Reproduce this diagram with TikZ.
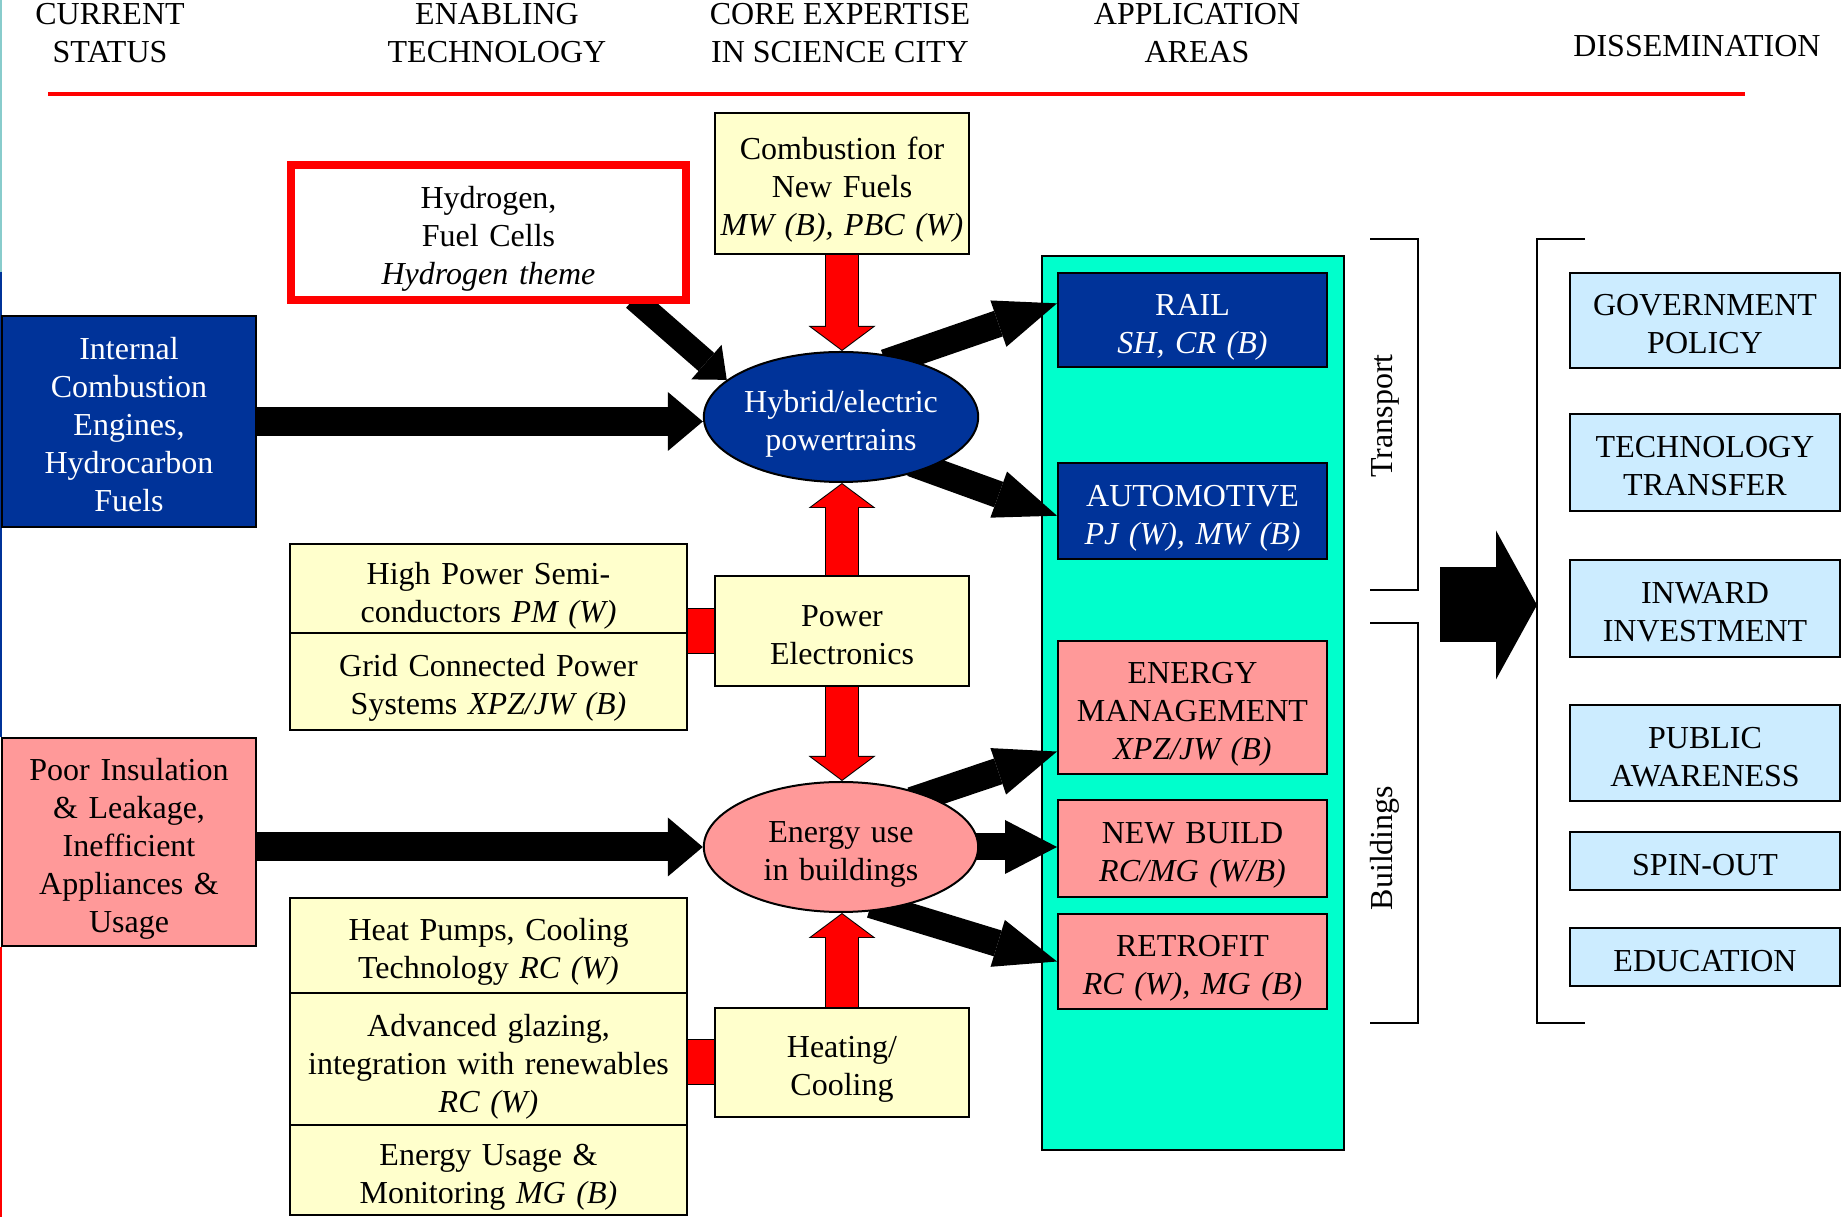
\documentclass[tikz,border=0pt]{standalone}
\usepackage{fontspec}
\setmainfont{Liberation Serif}
\usetikzlibrary{arrows.meta,shapes.geometric,calc}
\definecolor{deepblue}{HTML}{003399}
\definecolor{rosepink}{HTML}{FF9999}
\definecolor{paleyellow}{HTML}{FFFFCC}
\definecolor{aquagreen}{HTML}{00FFCC}
\definecolor{lightsky}{HTML}{CCECFF}
\definecolor{edgecyan}{HTML}{88CCCC}
\pgfdeclarelayer{bg}
\pgfsetlayers{bg,main}
\tikzset{
  box/.style={draw,line width=1bp,align=center,inner sep=0pt,
    execute at begin node={\rule{0pt}{20bp}},execute at end node=\strut},
  statbox/.style={box,minimum width=127bp,text width=127bp},
  techbox/.style={box,fill=paleyellow,minimum width=198.5bp,text width=198.5bp},
  corebox/.style={box,fill=paleyellow,minimum width=127bp,text width=127bp},
  appbox/.style={box,minimum width=134.5bp,text width=134.5bp},
  dissbox/.style={box,fill=lightsky,minimum width=135bp,text width=135bp},
  hub/.style={ellipse,draw,line width=1bp,align=center,inner sep=0pt,
    minimum width=136bp,minimum height=65bp,text width=97bp,
    execute at begin node={\rule{0pt}{20bp}},execute at end node=\strut},
  colhead/.style={align=center,inner sep=0pt},
  brk/.style={line width=1bp},
  feed/.style={line width=14.5bp,-{Triangle[length=17.5bp,width=29.5bp,line width=0pt]}},
  hydfeed/.style={line width=12bp,shorten <=-4bp,-{Triangle[length=13.5bp,width=23bp,line width=0pt]}},
  spoke/.style={line width=13.5bp,shorten <=-8bp,-{Triangle[length=31bp,width=24.5bp,line width=0pt]}},
  bigarrow/.style={line width=37.5bp,-{Triangle[length=20.5bp,width=74.5bp,line width=0pt]}},
  redback/.style={draw=black,line width=17bp,-{Triangle[length=12.5bp,width=33.5bp,line width=0pt]}},
  redfront/.style={draw=red,line width=16bp,shorten >=0.62bp,-{Triangle[length=11.4bp,width=30.5bp,line width=0pt]}},
  linkback/.style={draw=black,line width=23bp},
  linkfront/.style={draw=red,line width=22bp},
}
\newcommand{\redarrow}[2]{\draw [redback] #1 -- #2; \draw [redfront] #1 -- #2;}
\newcommand{\redlink}[2]{\draw [linkback] #1 -- #2; \draw [linkfront] #1 -- #2;}
\begin{document}
\begin{tikzpicture}[font=\fontsize{16bp}{19bp}\selectfont]
\useasboundingbox (0,0) rectangle (922.5bp,608.5bp);
%%
\node (cur) at (55bp,592bp) [colhead] {CURRENT\\STATUS};
\node (enab) at (248.5bp,592bp) [colhead] {ENABLING\\TECHNOLOGY};
\node (core) at (420bp,592bp) [colhead] {CORE EXPERTISE\\IN SCIENCE CITY};
\node (appl) at (598.5bp,592bp) [colhead] {APPLICATION\\AREAS};
\node (diss) at (848.5bp,585.5bp) [colhead] {DISSEMINATION};
\draw [red,line width=2bp] (24bp,561.5bp) -- (872.5bp,561.5bp);
%%
\node (ice) at (64.5bp,397.75bp) [statbox,fill=deepblue,text=white,minimum height=105.5bp] {Internal\\Combustion\\Engines,\\Hydrocarbon\\Fuels};
\node (poor) at (64.5bp,187.5bp) [statbox,fill=rosepink,minimum height=104bp] {Poor Insulation\\\& Leakage,\\Inefficient\\Appliances \&\\Usage};
%%
\node (hyd) at (244.25bp,492.25bp) [box,draw=red,line width=4bp,fill=white,minimum width=197.5bp,text width=197.5bp,minimum height=67.5bp] {Hydrogen,\\Fuel Cells\\\textit{Hydrogen theme}};
\node (semi) at (244.25bp,314bp) [techbox,minimum height=44bp] {High Power Semi-\\conductors \textit{PM (W)}};
\node (grid) at (244.25bp,267.75bp) [techbox,minimum height=48.5bp] {Grid Connected Power\\Systems \textit{XPZ/JW (B)}};
\node (heat) at (244.25bp,135.75bp) [techbox,minimum height=47.5bp] {Heat Pumps, Cooling\\Technology \textit{RC (W)}};
\node (glaz) at (244.25bp,78.5bp) [techbox,minimum height=67bp] {Advanced glazing,\\integration with renewables\\\textit{RC (W)}};
\node (emon) at (244.25bp,23.5bp) [techbox,minimum height=43bp] {Energy Usage \&\\Monitoring \textit{MG (B)}};
%%
\node (comb) at (421bp,516.75bp) [corebox,minimum height=70.5bp] {Combustion for\\New Fuels\\\textit{MW (B), PBC (W)}};
\node (hyb) at (420.5bp,400bp) [hub,fill=deepblue,text=white] {Hybrid/electric\\powertrains};
\node (pe) at (421bp,293bp) [corebox,minimum height=55bp] {Power\\Electronics};
\node (en) at (420.5bp,185bp) [hub,fill=rosepink] {Energy use\\in buildings};
\node (hc) at (421bp,77.25bp) [corebox,minimum height=54.5bp] {Heating/\\Cooling};
%%
\node (rail) at (596.25bp,448.5bp) [appbox,fill=deepblue,text=white,minimum height=47bp] {RAIL\\\textit{SH, CR (B)}};
\node (auto) at (596.25bp,353bp) [appbox,fill=deepblue,text=white,minimum height=48bp] {AUTOMOTIVE\\\textit{PJ (W), MW (B)}};
\node (em) at (596.25bp,254.75bp) [appbox,fill=rosepink,minimum height=66.5bp] {ENERGY\\MANAGEMENT\\\textit{XPZ/JW (B)}};
\node (nb) at (596.25bp,184.25bp) [appbox,fill=rosepink,minimum height=48.5bp] {NEW BUILD\\\textit{RC/MG (W/B)}};
\node (ret) at (596.25bp,127.75bp) [appbox,fill=rosepink,minimum height=47.5bp] {RETROFIT\\\textit{RC (W), MG (B)}};
\draw [brk] (685bp,489bp) -- (709bp,489bp) -- (709bp,313.5bp) -- (685bp,313.5bp);
\draw [brk] (685bp,297bp) -- (709bp,297bp) -- (709bp,97bp) -- (685bp,97bp);
\node (trlab) at (692.5bp,400.5bp) [rotate=90] {Transport};
\node (bdlab) at (692.5bp,184.5bp) [rotate=90] {Buildings};
%%
\draw [brk] (792.5bp,489bp) -- (768.5bp,489bp) -- (768.5bp,97bp) -- (792.5bp,97bp);
\node (gov) at (852.5bp,448.25bp) [dissbox,minimum height=47.5bp] {GOVERNMENT\\POLICY};
\node (tt) at (852.5bp,377.25bp) [dissbox,minimum height=48.5bp] {TECHNOLOGY\\TRANSFER};
\node (inw) at (852.5bp,304.25bp) [dissbox,minimum height=48.5bp] {INWARD\\INVESTMENT};
\node (pub) at (852.5bp,232bp) [dissbox,minimum height=48bp] {PUBLIC\\AWARENESS};
\node (spin) at (852.5bp,178bp) [dissbox,minimum height=29bp] {SPIN-OUT};
\node (edu) at (852.5bp,130bp) [dissbox,minimum height=29bp] {EDUCATION};
%%
\begin{pgfonlayer}{bg}
\draw [edgecyan,line width=1bp] (0.5bp,608.5bp) -- (0.5bp,472.5bp);
\draw [deepblue,line width=1bp] (0.5bp,472.5bp) -- (0.5bp,240bp);
\draw [red,line width=1bp] (0.5bp,135bp) -- (0.5bp,0bp);
\node (apparea) at (596.5bp,257bp) [draw,line width=1bp,fill=aquagreen,minimum width=151bp,minimum height=447bp,inner sep=0pt] {};
\draw [feed] (ice.east) -- (ice.east -| hyb.west);
\draw [feed] (en.west -| poor.east) -- (en.west);
\draw [hydfeed] ($(hyd.south east)+(-25bp,0)$) -- (hyb.162);
\draw [spoke] (hyb.45) -- (rail.173);
\draw [spoke] (hyb.-31) -- (auto.182);
\draw [spoke] (en.31) -- (em.198);
\draw [spoke,-{Triangle[length=26bp,width=27bp,line width=0pt]}] (en.east) -- (en.east -| nb.west);
\draw [spoke] (en.-54) -- (ret.west);
\redarrow{(comb.south)}{(comb.south |- hyb.north)}
\redarrow{(pe.north)}{(pe.north |- hyb.south)}
\redarrow{(pe.south)}{(pe.south |- en.north)}
\redarrow{(hc.north)}{(hc.north |- en.south)}
\redlink{(pe.west -| semi.east)}{(pe.west)}
\redlink{(hc.west -| glaz.east)}{(hc.west)}
\coordinate (appout) at (720bp,306bp);
\coordinate (dissin) at (768.5bp,306bp);
\draw [bigarrow] (appout) -- (dissin);
\end{pgfonlayer}
%
\end{tikzpicture}
\end{document}
